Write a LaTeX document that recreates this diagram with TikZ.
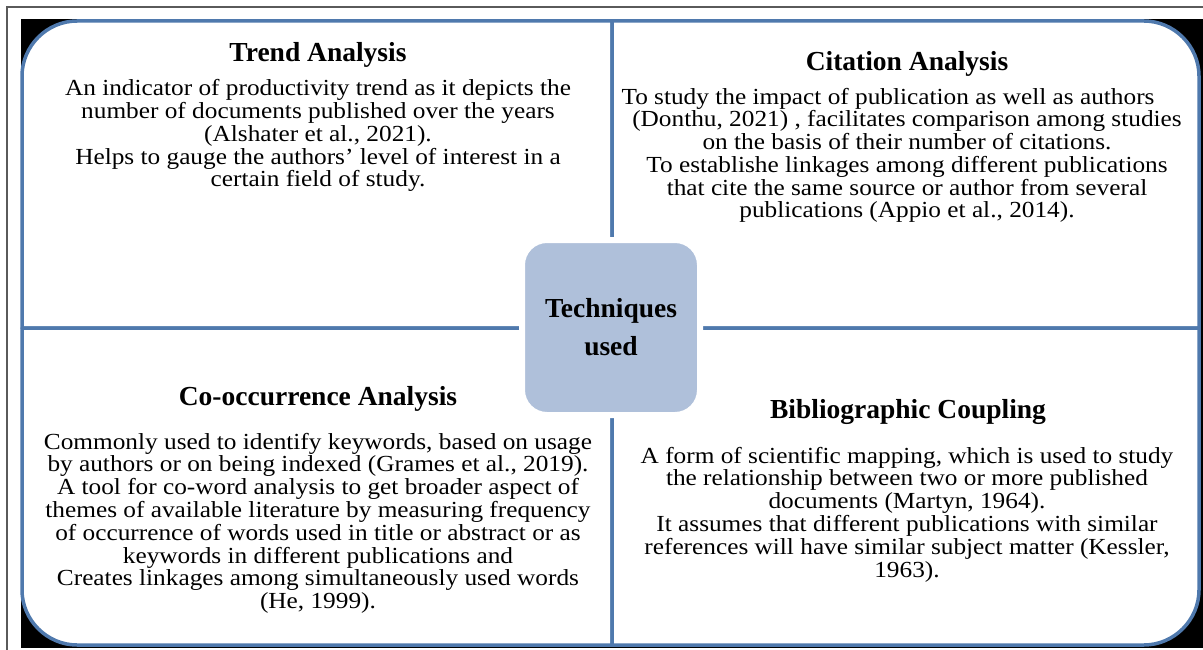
\documentclass[tikz,border=0pt]{standalone}
\usepackage{fontspec}
\setmainfont{Liberation Serif}
\newfontfamily\bodyfont[FakeStretch=1.1]{Liberation Serif}
\definecolor{quadblue}{RGB}{79,121,173}
\definecolor{centerfill}{RGB}{175,192,218}
\definecolor{framegray}{RGB}{90,90,90}
\tikzset{
  quad/.style={fill=white, draw=quadblue, line width=3.5pt, line join=round},
  titletext/.style={font=\fontsize{27.5}{30}\selectfont\bfseries, inner sep=0pt, anchor=base},
  bodytext/.style={font=\bodyfont\fontsize{23}{22.8}\selectfont, align=center, inner sep=0pt, anchor=base},
  centerbox/.style={fill=centerfill, draw=white, line width=6pt, rounded corners=25pt,
    minimum width=178pt, minimum height=175pt, align=center,
    font=\fontsize{27.5}{38}\selectfont\bfseries, inner sep=0pt}
}
\begin{document}
\begin{tikzpicture}[x=1pt,y=-1pt]
\useasboundingbox (0,0) rectangle (1203,650);
\fill[white] (0,0) rectangle (1203,650);
\draw[framegray, line width=1.2pt] (7,650) -- (7,7) -- (1203,7);
\fill[black] (21,19) rectangle (1203,648);
% quadrants
\draw[quad] (612,328) -- (22,328) -- (22,76) .. controls (22,46) and (47,21) .. (77,21) -- (612,21) -- cycle;
\draw[quad] (612,21) -- (1144,21) .. controls (1174,21) and (1199,46) .. (1199,76) -- (1199,328) -- (612,328) -- cycle;
\draw[quad] (22,328) -- (22,590) .. controls (22,620) and (47,645) .. (77,645) -- (612,645) -- (612,328) -- cycle;
\draw[quad] (612,328) -- (1199,328) -- (1199,590) .. controls (1199,620) and (1174,645) .. (1144,645) -- (612,645) -- cycle;
% center
\node[centerbox] (center) at (611,327.5) {Techniques\\used};
% texts (base anchor = baseline of last line)
\node[titletext] (tltitle) at (318,62) {Trend Analysis};
\node[bodytext] (tlbody) at (318,187) {An indicator of productivity trend as it depicts the\\number of documents published over the years\\(Alshater et al., 2021).\\Helps to gauge the authors’ level of interest in a\\certain field of study.};
\node[titletext] (trtitle) at (907,71) {Citation Analysis};
\node[bodytext] (trbody) at (907,218) {To study the impact of publication as well as authors\hspace*{38pt}\\(Donthu, 2021) , facilitates comparison among studies\hspace*{24pt}\\on the basis of their number of citations.\hspace*{48pt}\\To establishe linkages among different publications\\that cite the same source or author from several\\publications (Appio et al., 2014).};
\node[titletext] (bltitle) at (318,405) {Co-occurrence Analysis};
\node[bodytext] (blbody) at (318,608.6) {Commonly used to identify keywords, based on usage\\by authors or on being indexed (Grames et al., 2019).\\A tool for co-word analysis to get broader aspect of\\themes of available literature by measuring frequency\\of occurrence of words used in title or abstract or as\\keywords in different publications and\\Creates linkages among simultaneously used words\\(He, 1999).};
\node[titletext] (brtitle) at (908,418) {Bibliographic Coupling};
\node[bodytext] (brbody) at (907,577) {A form of scientific mapping, which is used to study\\the relationship between two or more published\\documents (Martyn, 1964).\\It assumes that different publications with similar\\references will have similar subject matter (Kessler,\\1963).};
\end{tikzpicture}
\end{document}
